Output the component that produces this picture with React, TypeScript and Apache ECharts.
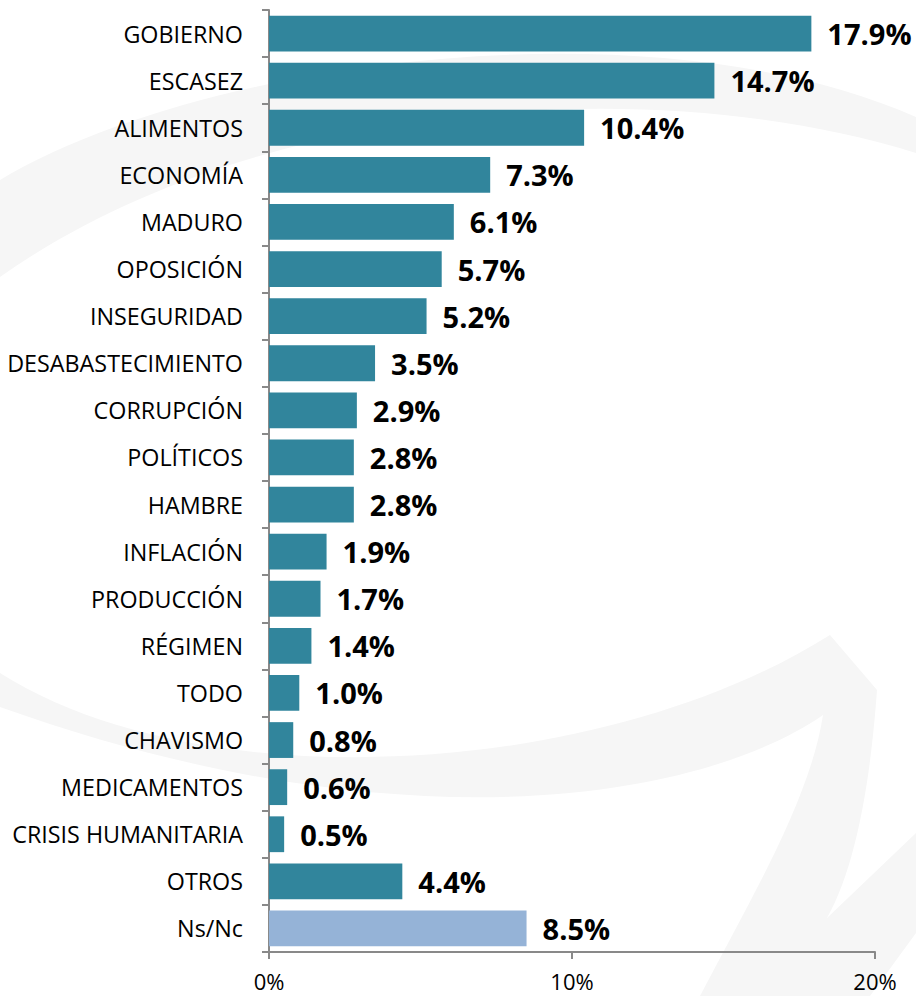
import React, { useEffect, useRef } from "react";
import * as echarts from "echarts";

const categories: string[] = [
  "GOBIERNO",
  "ESCASEZ",
  "ALIMENTOS",
  "ECONOMÍA",
  "MADURO",
  "OPOSICIÓN",
  "INSEGURIDAD",
  "DESABASTECIMIENTO",
  "CORRUPCIÓN",
  "POLÍTICOS",
  "HAMBRE",
  "INFLACIÓN",
  "PRODUCCIÓN",
  "RÉGIMEN",
  "TODO",
  "CHAVISMO",
  "MEDICAMENTOS",
  "CRISIS HUMANITARIA",
  "OTROS",
  "Ns/Nc",
];

const values: number[] = [
  17.9, 14.7, 10.4, 7.3, 6.1, 5.7, 5.2, 3.5, 2.9, 2.8, 2.8, 1.9, 1.7, 1.4, 1.0,
  0.8, 0.6, 0.5, 4.4, 8.5,
];

const highlighted: string[] = ["Ns/Nc"];

const xTicks: number[] = [0, 10, 20];

const MAIN_COLOR = "#31859C";
const ALT_COLOR = "#95B3D7";
const AXIS_COLOR = "#898989";
const FONT = "'Open Sans', 'DejaVu Sans', sans-serif";

const TOP_ARC =
  "M 0 180 C 200 60 650 0 916 117 L 916 153 C 650 70 250 100 0 277 Z";
const BOTTOM_SWOOSH =
  "M 0 673 C 200 800 600 780 830 635 L 877 690 C 872 760 860 860 827 918 L 916 833 L 916 933 L 870 996 L 700 996 C 750 900 810 800 823 715 C 700 800 400 850 0 707 Z";

export default function App() {
  const ref = useRef<HTMLDivElement>(null);

  useEffect(() => {
    document.body.style.margin = "0";
    if (!ref.current) return;
    echarts.graphic.registerShape(
      "wmTop",
      echarts.graphic.extendPath(TOP_ARC, {})
    );
    echarts.graphic.registerShape(
      "wmBottom",
      echarts.graphic.extendPath(BOTTOM_SWOOSH, {})
    );
    const chart = echarts.init(ref.current, undefined, { renderer: "svg" });

    const data = values.map((v, i) => ({
      value: v,
      itemStyle: {
        color: highlighted.includes(categories[i]) ? ALT_COLOR : MAIN_COLOR,
      },
    }));

    chart.setOption({
      animation: false,
      backgroundColor: "#ffffff",
      graphic: [
        {
          type: "wmTop",
          x: 0,
          y: 0,
          z: -10,
          silent: true,
          style: { fill: "#f6f6f6" },
        },
        {
          type: "wmBottom",
          x: 0,
          y: 0,
          z: -10,
          silent: true,
          style: { fill: "#f6f6f6" },
        },
      ],
      grid: {
        left: 269,
        right: 41,
        top: 10,
        bottom: 44,
        containLabel: false,
      },
      xAxis: {
        type: "value",
        min: xTicks[0],
        max: xTicks[xTicks.length - 1],
        interval: xTicks[1] - xTicks[0],
        axisLine: { show: true, lineStyle: { color: AXIS_COLOR, width: 2 } },
        axisTick: {
          show: true,
          length: 7,
          lineStyle: { color: AXIS_COLOR, width: 2 },
        },
        splitLine: { show: false },
        axisLabel: {
          formatter: "{value}%",
          fontFamily: FONT,
          fontSize: 22,
          color: "#000000",
          margin: 18,
        },
      },
      yAxis: {
        type: "category",
        data: categories,
        inverse: true,
        axisLine: { show: true, lineStyle: { color: AXIS_COLOR, width: 2 } },
        axisTick: {
          show: true,
          length: 7,
          lineStyle: { color: AXIS_COLOR, width: 2 },
        },
        axisLabel: {
          fontFamily: FONT,
          fontSize: 23.3,
          color: "#000000",
          margin: 26,
        },
      },
      series: [
        {
          type: "bar",
          data,
          barCategoryGap: "24%",
          label: {
            show: true,
            position: "right",
            distance: 16,
            fontFamily: FONT,
            fontSize: 29,
            fontWeight: "bold",
            color: "#000000",
            formatter: (p: any) => Number(p.value).toFixed(1) + "%",
          },
        },
      ],
    });

    return () => {
      chart.dispose();
    };
  }, []);

  return <div ref={ref} style={{ width: 916, height: 996 }} />;
}
